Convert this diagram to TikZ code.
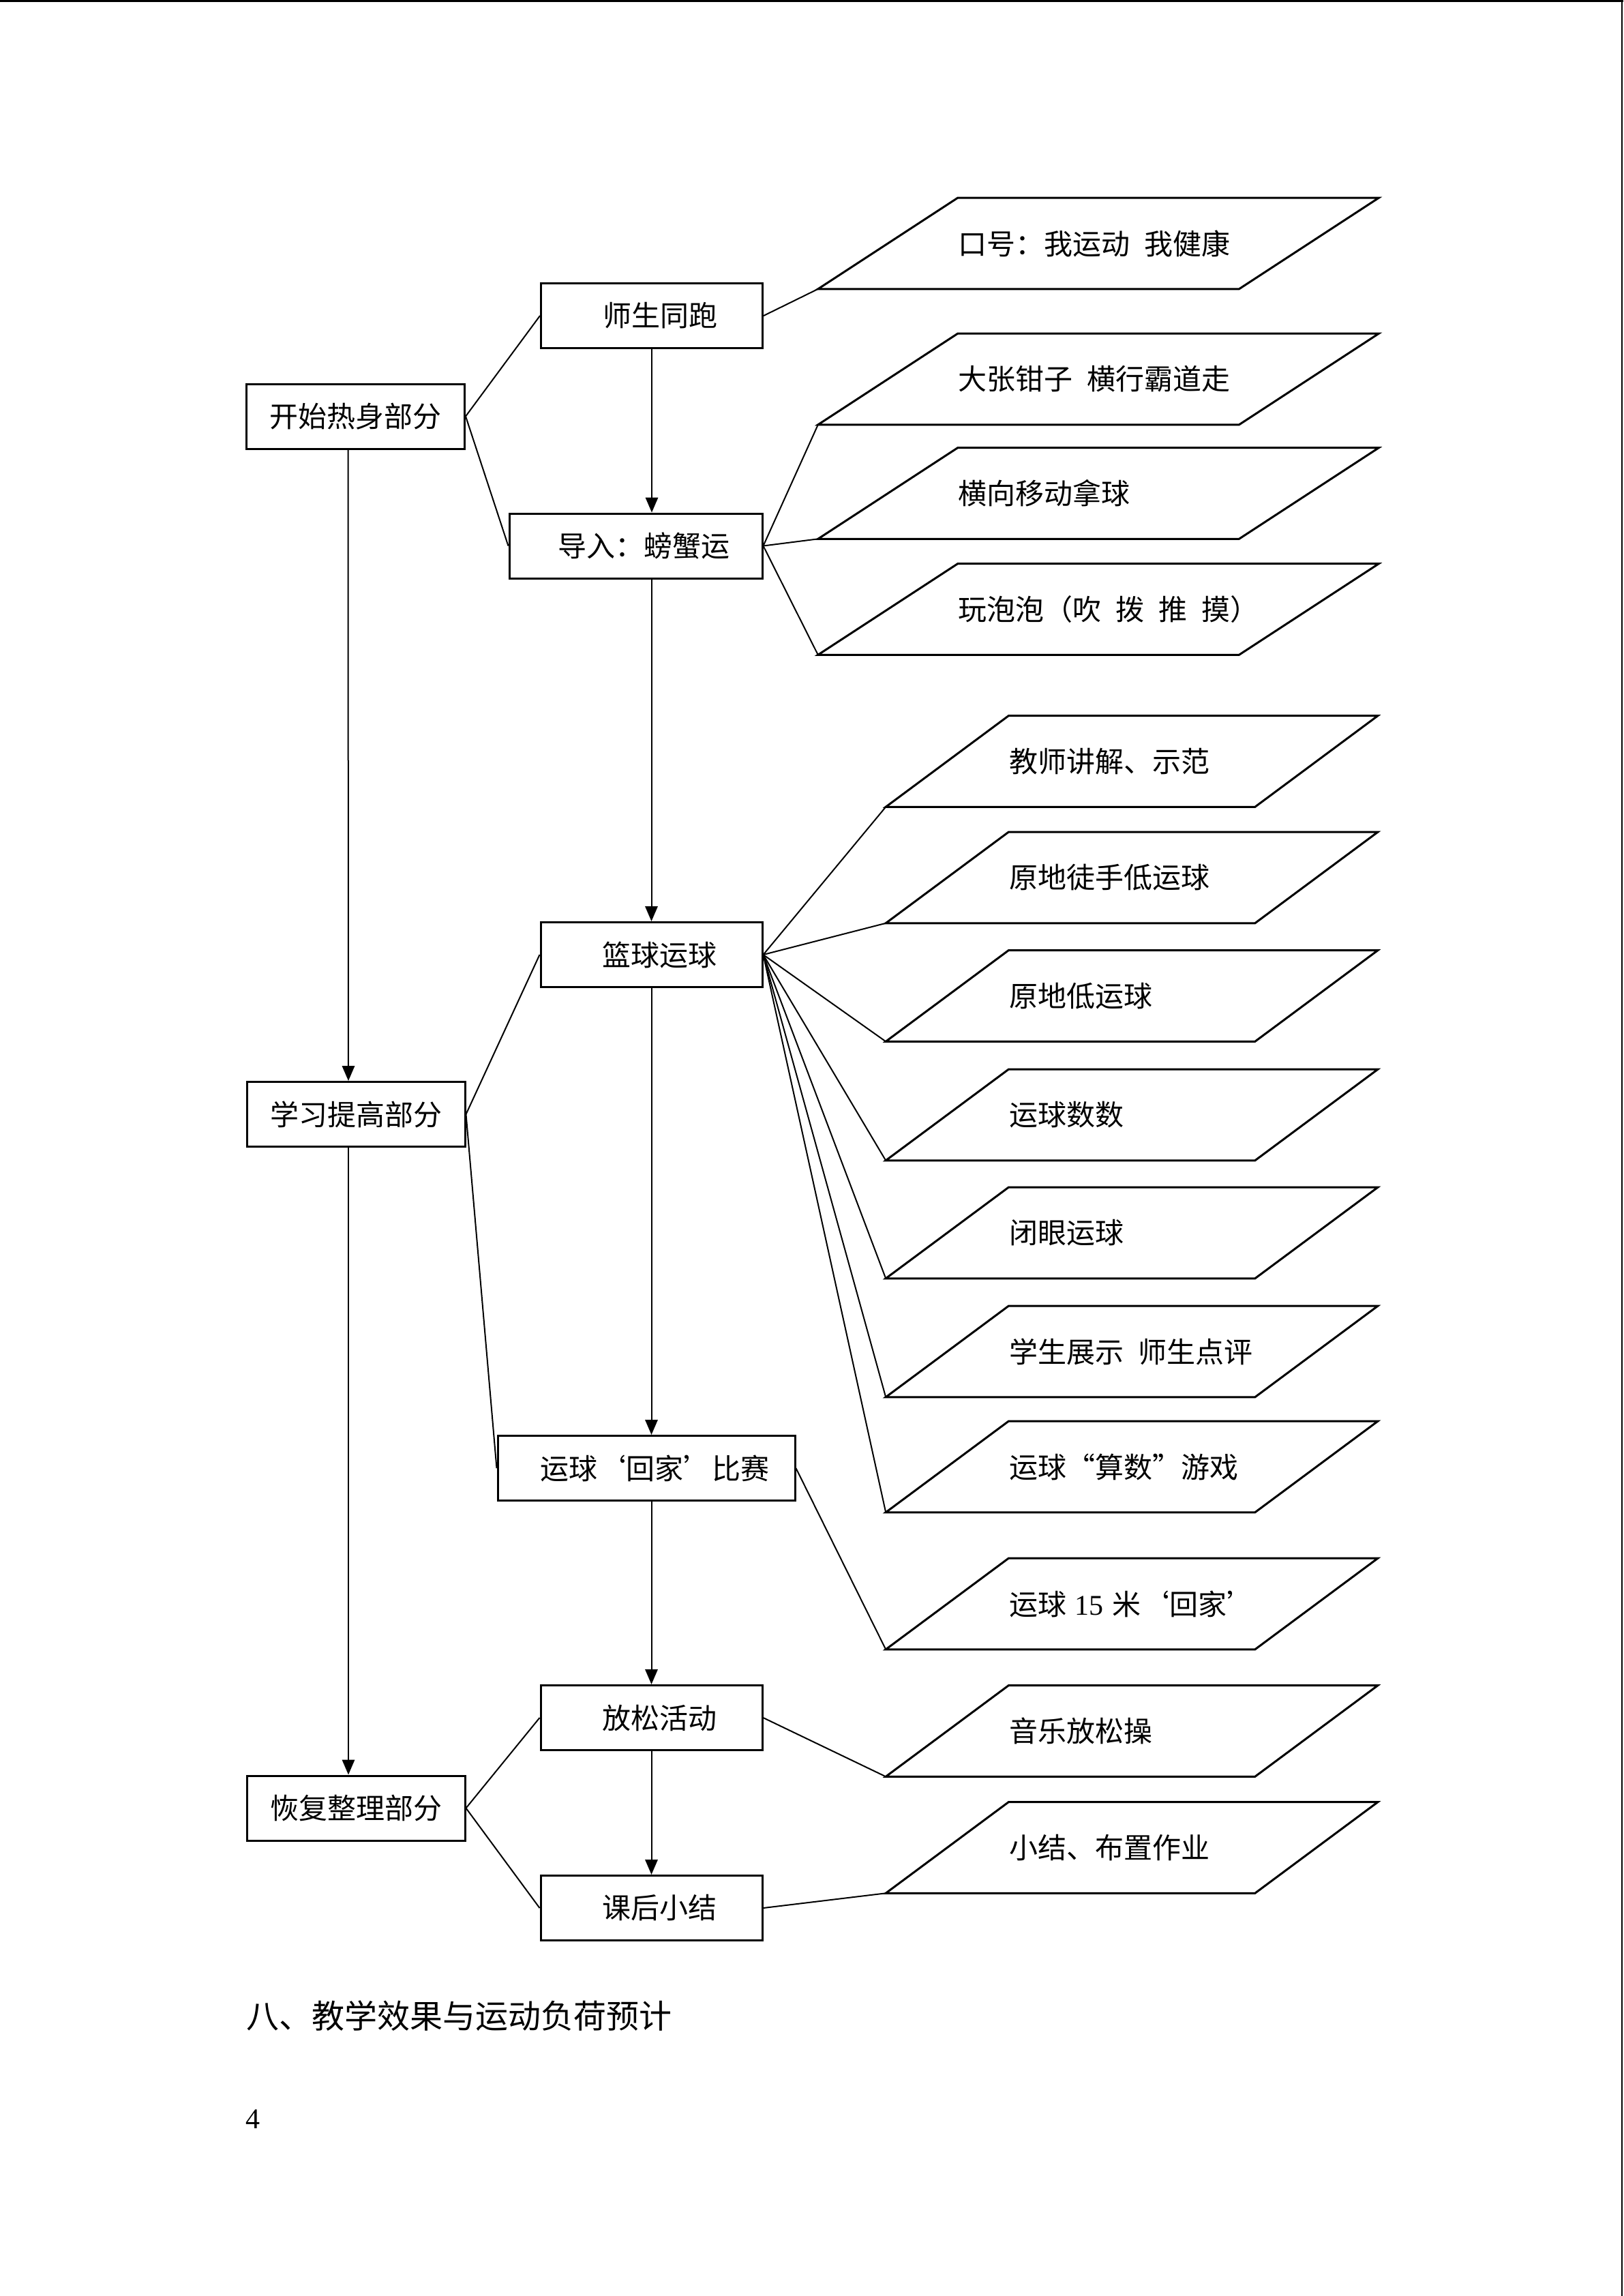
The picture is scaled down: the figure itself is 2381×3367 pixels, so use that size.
\documentclass[tikz,border=0pt]{standalone}
\usepackage{fontspec}
\setmainfont{Liberation Serif}
\newfontfamily\cjk{Noto Sans CJK SC}
\newfontfamily\serifnum{Liberation Serif}
\usetikzlibrary{arrows.meta}
\begin{document}
\begin{tikzpicture}[x=0.25pt, y=-0.25pt,
  every node/.style={font=\cjk\fontsize{10.5}{12.6}\selectfont, inner sep=0pt},
  mybox/.style={draw, line width=0.75pt, minimum height=23.75pt, inner sep=0pt},
  lbox/.style={mybox, minimum width=80pt},
  mbox/.style={mybox, minimum width=81.25pt, execute at begin node={\hspace*{6pt}}},
  pga/.style={minimum height=33pt, inner xsep=25.6pt, inner ysep=0pt, text width=102.8pt, align=left},
  pgb/.style={minimum height=33pt, inner xsep=22.5pt, inner ysep=0pt, text width=90pt, align=left},
  pgline/.style={line width=0.75pt, line join=miter},
  conn/.style={line width=0.5pt},
  arr/.style={line width=0.5pt, -{Triangle[length=5.5pt,width=4.6pt]}}
]
\fill[white] (0,0) rectangle (2381,3367);
\useasboundingbox (0,0) rectangle (2381,3367);
% page edges
\draw[line width=0.8pt] (0,1.6) -- (2381,1.6);
\draw[line width=0.4pt] (2379,0) -- (2379,3367);

% left column
\node[lbox] (ks) at (521.5, 610.5) {开始热身部分};
\node[lbox] (xx) at (522, 1634) {学习提高部分};
\node[lbox] (hf) at (522, 2651.5) {恢复整理部分};

% middle column
\node[mbox] (ss) at (956, 463) {师生同跑};
\node[mbox, minimum width=92.75pt] (dr) at (932.5, 800.5) {导入：螃蟹运};
\node[mbox] (lq) at (955.5, 1400) {篮球运球};
\node[mbox, minimum width=109pt] (hj) at (948, 2153) {运球‘回家’比赛};
\node[mbox] (fs) at (955.5, 2519) {放松活动};
\node[mbox] (kh) at (955.5, 2798) {课后小结};

% parallelograms, group A
\node[pga] (a1) at (1611, 357) {\mbox{口号：我运动\hspace{.5em}我健康}};
\node[pga] (a2) at (1611, 556) {\mbox{大张钳子\hspace{.5em}横行霸道走}};
\node[pga] (a3) at (1611, 723.5) {\mbox{横向移动拿球}};
\node[pga] (a4) at (1611, 893.5) {\mbox{玩泡泡（吹\hspace{.5em}拨\hspace{.5em}推\hspace{.5em}摸）}};

% parallelograms, group B
\node[pgb] (b1) at (1660, 1116.5) {\mbox{教师讲解、示范}};
\node[pgb] (b2) at (1660, 1287) {\mbox{原地徒手低运球}};
\node[pgb] (b3) at (1660, 1460.5) {\mbox{原地低运球}};
\node[pgb] (b4) at (1660, 1635) {\mbox{运球数数}};
\node[pgb] (b5) at (1660, 1808) {\mbox{闭眼运球}};
\node[pgb] (b6) at (1660, 1982) {\mbox{学生展示\hspace{.5em}师生点评}};
\node[pgb] (b7) at (1660, 2151) {\mbox{运球“算数”游戏}};
\node[pgb] (b8) at (1660, 2352) {\mbox{运球\hspace{.3em}{\serifnum 15}\hspace{.3em}米‘回家’}};
\node[pgb] (b9) at (1660, 2538.5) {\mbox{音乐放松操}};
\node[pgb] (b10) at (1660, 2709.5) {\mbox{小结、布置作业}};

\foreach \n in {a1,a2,a3,a4}
  \draw[pgline] ([xshift=25.6pt]\n.north west) -- ([xshift=25.6pt]\n.north east)
    -- ([xshift=-25.6pt]\n.south east) -- ([xshift=-25.6pt]\n.south west) -- cycle;
\foreach \n in {b1,b2,b3,b4,b5,b6,b7,b8,b9,b10}
  \draw[pgline] ([xshift=22.5pt]\n.north west) -- ([xshift=22.5pt]\n.north east)
    -- ([xshift=-22.5pt]\n.south east) -- ([xshift=-22.5pt]\n.south west) -- cycle;

% connectors
\draw[conn] (ks.east) -- (ss.west);
\draw[conn] (ks.east) -- (dr.west);
\draw[conn] (ss.east) -- ([xshift=-25.6pt]a1.south west);
\foreach \n in {a2,a3,a4}
  \draw[conn] (dr.east) -- ([xshift=-25.6pt]\n.south west);
\draw[conn] (xx.east) -- (lq.west);
\draw[conn] (xx.east) -- (hj.west);
\foreach \n in {b1,b2,b3,b4,b5,b6,b7}
  \draw[conn] (lq.east) -- ([xshift=-22.5pt]\n.south west);
\draw[conn] (hj.east) -- ([xshift=-22.5pt]b8.south west);
\draw[conn] (hf.east) -- (fs.west);
\draw[conn] (hf.east) -- (kh.west);
\draw[conn] (fs.east) -- ([xshift=-22.5pt]b9.south west);
\draw[conn] (kh.east) -- ([xshift=-22.5pt]b10.south west);

% arrows
\draw[arr] (ss.south) -- (ss.south |- dr.north);
\draw[arr] (lq.north |- dr.south) -- (lq.north);
\draw[arr] (lq.south) -- (lq.south |- hj.north);
\draw[arr] (fs.north |- hj.south) -- (fs.north);
\draw[arr] (fs.south) -- (kh.north);
\draw[arr] ([xshift=-2.75pt]ks.south) -- ([xshift=-2.75pt]xx.north);
\draw[arr] ([xshift=-2.75pt]xx.south) -- ([xshift=-2.75pt]hf.north);

% heading and page number
\node[anchor=west, font=\cjk\fontsize{12}{14.4}\selectfont] (hd) at (361, 2956) {八、教学效果与运动负荷预计};
\node[anchor=base west, font=\serifnum\fontsize{10.5}{12.6}\selectfont] (pn) at (360, 3121) {4};
\end{tikzpicture}
\end{document}
